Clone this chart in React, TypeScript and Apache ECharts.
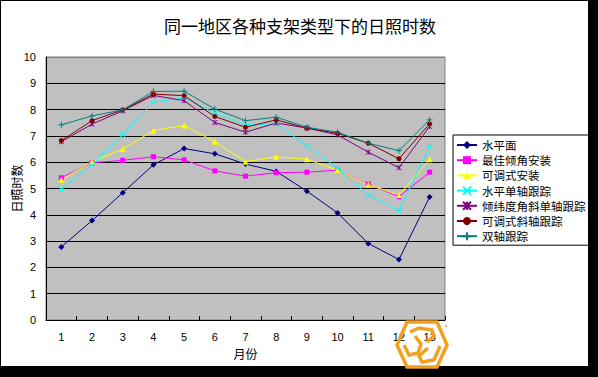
import React, { useEffect, useRef } from "react";
import * as echarts from "echarts";

const title = "同一地区各种支架类型下的日照时数";
const months = ["1", "2", "3", "4", "5", "6", "7", "8", "9", "10", "11", "12", "13"];
const yTicks = [0, 10, 1];

const horizontal = [2.78, 3.78, 4.84, 5.9, 6.52, 6.32, 5.93, 5.65, 4.9, 4.07, 2.91, 2.3, 4.68];
const bestTilt = [5.41, 5.98, 6.07, 6.21, 6.09, 5.67, 5.47, 5.6, 5.62, 5.7, 5.17, 4.69, 5.62];
const adjustable = [5.33, 6.02, 6.5, 7.2, 7.4, 6.78, 6.02, 6.21, 6.11, 5.7, 5.15, 4.75, 6.11];
const horizSingle = [4.97, 5.9, 7.04, 8.28, 8.45, 7.87, 7.42, 7.46, 6.63, 5.77, 4.75, 4.16, 6.6];
const tiltSingle = [6.78, 7.45, 7.95, 8.54, 8.34, 7.51, 7.14, 7.49, 7.3, 7.04, 6.38, 5.79, 7.36];
const adjTiltAxis = [6.82, 7.58, 7.99, 8.59, 8.53, 7.74, 7.33, 7.61, 7.29, 7.1, 6.72, 6.13, 7.46];
const dualAxis = [7.42, 7.76, 7.99, 8.69, 8.7, 8.02, 7.58, 7.71, 7.33, 7.14, 6.72, 6.44, 7.61];

const seriesNames = [
  "水平面",
  "最佳倾角安装",
  "可调式安装",
  "水平单轴跟踪",
  "倾纬度角斜单轴跟踪",
  "可调式斜轴跟踪",
  "双轴跟踪",
];
const seriesData = [horizontal, bestTilt, adjustable, horizSingle, tiltSingle, adjTiltAxis, dualAxis];
const seriesColors = ["#000080", "#ff00ff", "#ffff00", "#00ffff", "#800080", "#800000", "#008080"];
const seriesSymbols = [
  "diamond",
  "rect",
  "triangle",
  "path://M0,0L8,8M8,0L0,8M0,4L8,4",
  "path://M0,0L8,8M8,0L0,8M4,0L4,8",
  "circle",
  "path://M4,0L4,8M0,4L8,4",
];
const seriesSymbolSizes = [6, 5, 6, 5, 5, 5, 6];

const CJK = "'Noto Sans CJK SC', sans-serif";
const NUM = "'Liberation Sans', Arial, sans-serif";

export default function App() {
  const ref = useRef<HTMLDivElement>(null);
  useEffect(() => {
    if (!ref.current) return;
    const chart = echarts.init(ref.current, null, { renderer: "svg" });
    const splitColors: string[] = [];
    for (let v = yTicks[0]; v <= yTicks[1]; v += yTicks[2]) {
      splitColors.push(v === yTicks[1] ? "#808080" : "#000000");
    }
    const orange = "#f2a01e";
    chart.setOption({
      animation: false,
      backgroundColor: "transparent",
      title: {
        text: title,
        left: 295,
        textAlign: "center",
        top: 12,
        textStyle: { fontFamily: CJK, fontSize: 17, fontWeight: "normal", color: "#000" },
      },
      grid: {
        left: 46,
        right: 153,
        top: 57,
        bottom: 57,
        containLabel: false,
        outerBoundsMode: "none",
        show: true,
        backgroundColor: "#c0c0c0",
        borderColor: "#808080",
        borderWidth: 1,
      },
      legend: {
        orient: "vertical",
        left: 453,
        top: 135,
        padding: [4, 3, 3, 3],
        itemWidth: 20,
        itemHeight: 10,
        itemGap: 3.2,
        backgroundColor: "#fff",
        borderColor: "#000",
        borderWidth: 1,
        borderRadius: 0,
        data: seriesNames,
        textStyle: { fontFamily: CJK, fontSize: 11.5, color: "#000", lineHeight: 12 },
      },
      xAxis: {
        type: "category",
        data: months,
        boundaryGap: true,
        name: "月份",
        nameLocation: "middle",
        nameGap: 27,
        nameMoveOverlap: false,
        nameTextStyle: { fontFamily: CJK, fontSize: 12, color: "#000" },
        axisLine: { show: true, lineStyle: { color: "#000", width: 1 } },
        axisTick: { show: true, inside: true, length: 4, lineStyle: { color: "#000" } },
        axisLabel: { fontFamily: NUM, fontSize: 11, color: "#000", margin: 11 },
        splitLine: { show: false },
      },
      yAxis: {
        type: "value",
        min: yTicks[0],
        max: yTicks[1],
        interval: yTicks[2],
        name: "日照时数",
        nameLocation: "middle",
        nameRotate: 90,
        nameGap: 24,
        nameMoveOverlap: false,
        nameTextStyle: { fontFamily: CJK, fontSize: 12, color: "#000" },
        axisLine: { show: true, lineStyle: { color: "#000", width: 1 } },
        axisTick: { show: false },
        axisLabel: { fontFamily: NUM, fontSize: 11, color: "#000", margin: 10 },
        splitLine: { show: true, lineStyle: { color: splitColors, width: 1 } },
      },
      series: seriesNames.map((name, i) => ({
        name,
        type: "line",
        data: seriesData[i],
        symbol: seriesSymbols[i],
        symbolSize: seriesSymbolSizes[i],
        showSymbol: true,
        lineStyle: { color: seriesColors[i], width: 1 },
        itemStyle: { color: seriesColors[i], borderColor: seriesColors[i], borderWidth: i === 3 || i === 4 || i === 6 ? 1 : 0 },
        emphasis: { disabled: true },
      })),
      graphic: [
        {
          type: "polygon",
          shape: {
            points: [
              [407, 322],
              [437, 322],
              [447, 345],
              [437, 367],
              [407, 367],
              [397, 345],
            ],
          },
          style: { fill: "none", stroke: orange, lineWidth: 3.5 },
          z: 10,
        },
        {
          type: "polyline",
          shape: { points: [[410, 332], [419, 328], [432, 330], [434, 336], [427, 342]] },
          style: { fill: "none", stroke: orange, lineWidth: 3.5 },
          z: 10,
        },
        {
          type: "polyline",
          shape: { points: [[404, 345], [409, 355], [418, 353], [421, 344], [415, 336]] },
          style: { fill: "none", stroke: orange, lineWidth: 3.5 },
          z: 10,
        },
        {
          type: "polyline",
          shape: { points: [[440, 346], [434, 360], [422, 362], [419, 356], [428, 348]] },
          style: { fill: "none", stroke: orange, lineWidth: 3.5 },
          z: 10,
        },
        {
          type: "circle",
          shape: { cx: 446, cy: 326, r: 1.5 },
          style: { fill: "#f5c080" },
          z: 10,
        },
      ],
    });
    return () => chart.dispose();
  }, []);
  return (
    <div style={{ position: "fixed", left: 0, top: 0, width: 598, height: 377, background: "#000" }}>
      <div
        style={{
          position: "absolute",
          left: 0,
          top: 0,
          width: 587,
          height: 365,
          background: "#fff",
          border: "1px solid #000",
        }}
      />
      <div ref={ref} style={{ position: "absolute", left: 0, top: 0, width: 598, height: 377 }} />
    </div>
  );
}
